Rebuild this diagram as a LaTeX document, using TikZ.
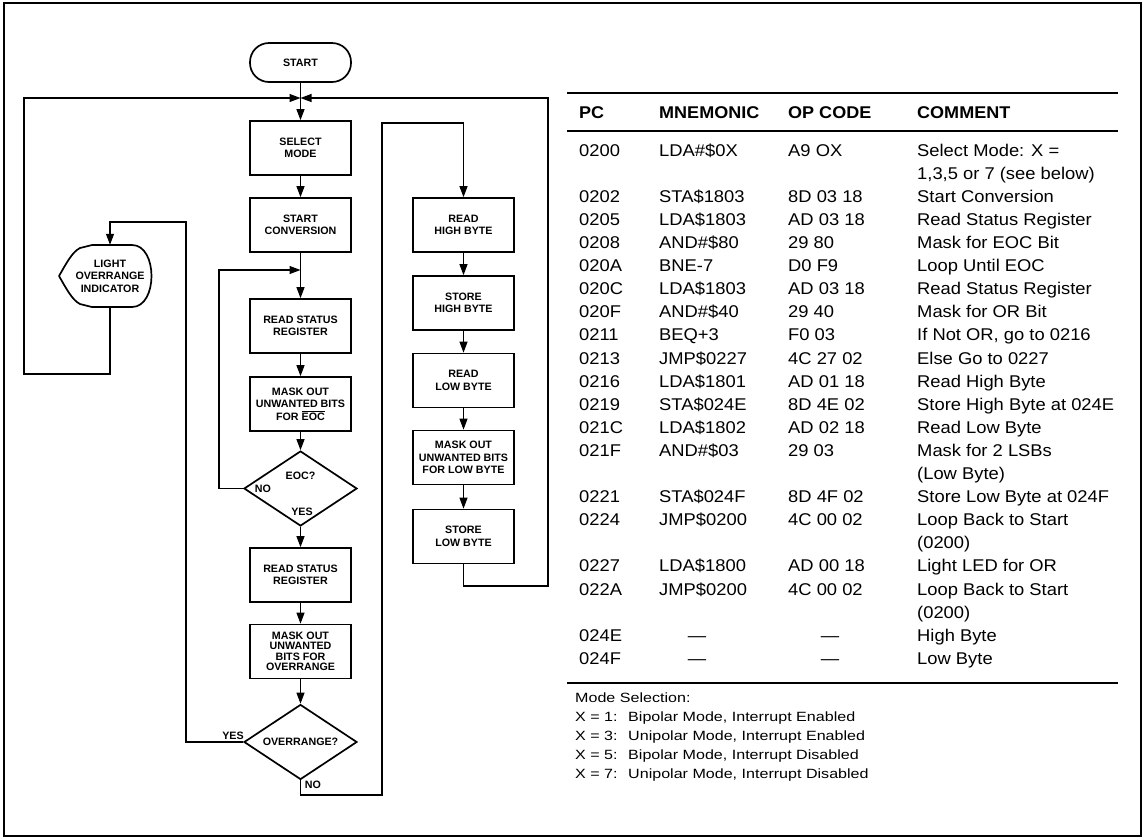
\documentclass[tikz,border=0pt]{standalone}
\usepackage{fontspec}
\setmainfont{Liberation Sans}
\newfontfamily\widefont[FakeStretch=1.08]{Liberation Sans}
\newfontfamily\headfont[FakeStretch=1.06]{Liberation Sans}
\newfontfamily\notefont[FakeStretch=1.2]{Liberation Sans}
\usetikzlibrary{arrows.meta,shapes.geometric}

\tikzset{
  wire/.style={line width=1.1pt},
  flow/.style={wire,-{Triangle[length=11pt,width=8pt]}},
  boxfont/.style={font=\fontsize{10.7}{12.5}\selectfont\bfseries},
  stepbox/.style={draw,line width=1.7pt,minimum width=101pt,minimum height=54pt,
    inner sep=0pt,align=center,boxfont},
  decision/.style={draw,line width=1.7pt,diamond,minimum width=113pt,
    minimum height=75pt,inner sep=0pt},
  terminal/.style={draw,line width=1.7pt,rounded corners=19pt,minimum width=101pt,
    minimum height=39pt,inner sep=0pt,boxfont},
  tag/.style={inner sep=0pt,boxfont,align=center},
  cell/.style={inner sep=0pt,anchor=west,text height=12.2pt,text depth=0pt,
    font={\widefont\fontsize{17}{20}\selectfont}},
  dashcell/.style={cell,anchor=center},
  headcell/.style={inner sep=0pt,anchor=west,text height=12.2pt,text depth=0pt,
    font={\headfont\fontsize{17}{20}\selectfont\bfseries}},
  note/.style={inner sep=0pt,anchor=west,text height=9.6pt,text depth=0pt,
    font={\notefont\fontsize{13.4}{16}\selectfont}},
  rule/.style={line width=1.3pt}
}

% one program line: index, PC, mnemonic, op code, comment
\newcommand\tabrow[5]{%
  \node[cell] (pc#1) at (579,{150+23.1*#1}) {#2};
  \node[cell] (mn#1) at (659,{150+23.1*#1}) {#3};
  \node[cell] (op#1) at (788,{150+23.1*#1}) {#4};
  \node[cell] (cm#1) at (917,{150+23.1*#1}) {#5};}
% continuation of a comment on the next line
\newcommand\tabmore[2]{%
  \node[cell] (cm#1) at (917,{150+23.1*#1}) {#2};}
% data words with no code
\newcommand\tabdata[3]{%
  \node[cell] (pc#1) at (579,{150+23.1*#1}) {#2};
  \node[dashcell] (mn#1) at (697,{150+23.1*#1}) {—};
  \node[dashcell] (op#1) at (830,{150+23.1*#1}) {—};
  \node[cell] (cm#1) at (917,{150+23.1*#1}) {#3};}

\begin{document}
\begin{tikzpicture}[x=1pt,y=-1pt]
\useasboundingbox (0,0) rectangle (1145,839);
\fill[white] (0,0) rectangle (1145,839);
\draw[line width=1.6pt] (4,3) rectangle (1141,836);

% ---------------- flowchart ----------------
\node[terminal] (start) at (300.5,62.5) {START};
\coordinate (join) at (300.5,98);

\node[stepbox] (sel)  at (300.5,148) {SELECT\\MODE};
\node[stepbox] (conv) at (300.5,225) {START\\CONVERSION};
\node[stepbox] (rs1)  at (300.5,326) {READ STATUS\\REGISTER};
\node[stepbox] (meoc) at (300.5,404) {MASK OUT\\UNWANTED BITS\\FOR $\overline{\mbox{EOC}}$};
\node[decision] (eoc) at (300.5,488.5) {};
\node[stepbox] (rs2)  at (300.5,575) {READ STATUS\\REGISTER};
\node[stepbox,font=\fontsize{10.7}{10.5}\selectfont\bfseries] (mor) at (300.5,651.5)
  {MASK OUT\\UNWANTED\\BITS FOR\\OVERRANGE};
\node[decision] (ovr) at (300.5,742) {};

\node[stepbox] (rhb) at (463.5,225) {READ\\HIGH BYTE};
\node[stepbox] (shb) at (463.5,303) {STORE\\HIGH BYTE};
\node[stepbox] (rlb) at (463.5,380.5) {READ\\LOW BYTE};
\node[stepbox] (mlb) at (463.5,457.5) {MASK OUT\\UNWANTED BITS\\FOR LOW BYTE};
\node[stepbox] (slb) at (463.5,536.5) {STORE\\LOW BYTE};

% display symbol for the overrange lamp
\draw[line width=1.7pt,line join=round]
  (59,276) .. controls (66,264) and (72,252) .. (80,248)
  -- (92,245) -- (132,245)
  .. controls (158,245) and (158,307) .. (132,307)
  -- (92,307) -- (80,304)
  .. controls (72,300) and (66,288) .. cycle;
\node[tag,minimum width=94pt,minimum height=62pt] (lor) at (110,276)
  {LIGHT\\OVERRANGE\\INDICATOR};

% decision labels
\node[tag] (eocq) at (300.5,476) {EOC?};
\node[tag] (eocno) at (263,489) {NO};
\node[tag] (eocyes) at (302,512) {YES};
\node[tag] (ovrq) at (300.5,742) {OVERRANGE?};
\node[tag] (ovryes) at (233,736) {YES};
\node[tag] (ovrno) at (313,785) {NO};

% main column
\draw[wire] (start.south) -- (join);
\draw[flow] (join) -- (sel.north);
\draw[flow] (sel) -- (conv);
\draw[flow] (conv) -- (rs1);
\draw[flow] (rs1) -- (meoc);
\draw[flow] (meoc) -- (eoc.north);
\draw[flow] (eoc.south) -- (rs2.north);
\draw[flow] (rs2) -- (mor);
\draw[flow] (mor) -- (ovr.north);

% wait for end of conversion
\coordinate (eocback) at (300.5,270);
\draw[flow] (eoc.west) -- (219,488.5) |- (eocback);

% overrange: light the lamp, then back to the top
\draw[flow] (ovr.west) -- (186,742) |- (110,222) -- (lor.north);
\draw[flow] (lor.south) |- (24,374) |- (join);

% no overrange: read the result
\draw[flow] (ovr.south) |- (382,795) |- (463.5,123) -- (rhb.north);
\draw[flow] (rhb) -- (shb);
\draw[flow] (shb) -- (rlb);
\draw[flow] (rlb) -- (mlb);
\draw[flow] (mlb) -- (slb);
\draw[flow] (slb.south) |- (548,586) |- (join);

% ---------------- program listing ----------------
\draw[rule] (567,93) -- (1118,93);
\draw[rule] (567,131) -- (1118,131);
\draw[rule] (567,683) -- (1118,683);

\node[headcell] (hpc) at (579,112) {PC};
\node[headcell] (hmn) at (659,112) {MNEMONIC};
\node[headcell] (hop) at (788,112) {OP CODE};
\node[headcell] (hcm) at (917,112) {COMMENT};

\tabrow{0}{0200}{LDA\#\$0X}{A9 OX}{Select Mode: X =}
\tabmore{1}{1,3,5 or 7 (see below)}
\tabrow{2}{0202}{STA\$1803}{8D 03 18}{Start Conversion}
\tabrow{3}{0205}{LDA\$1803}{AD 03 18}{Read Status Register}
\tabrow{4}{0208}{AND\#\$80}{29 80}{Mask for EOC Bit}
\tabrow{5}{020A}{BNE-7}{D0 F9}{Loop Until EOC}
\tabrow{6}{020C}{LDA\$1803}{AD 03 18}{Read Status Register}
\tabrow{7}{020F}{AND\#\$40}{29 40}{Mask for OR Bit}
\tabrow{8}{0211}{BEQ+3}{F0 03}{If Not OR, go to 0216}
\tabrow{9}{0213}{JMP\$0227}{4C 27 02}{Else Go to 0227}
\tabrow{10}{0216}{LDA\$1801}{AD 01 18}{Read High Byte}
\tabrow{11}{0219}{STA\$024E}{8D 4E 02}{Store High Byte at 024E}
\tabrow{12}{021C}{LDA\$1802}{AD 02 18}{Read Low Byte}
\tabrow{13}{021F}{AND\#\$03}{29 03}{Mask for 2 LSBs}
\tabmore{14}{(Low Byte)}
\tabrow{15}{0221}{STA\$024F}{8D 4F 02}{Store Low Byte at 024F}
\tabrow{16}{0224}{JMP\$0200}{4C 00 02}{Loop Back to Start}
\tabmore{17}{(0200)}
\tabrow{18}{0227}{LDA\$1800}{AD 00 18}{Light LED for OR}
\tabrow{19}{022A}{JMP\$0200}{4C 00 02}{Loop Back to Start}
\tabmore{20}{(0200)}
\tabdata{21}{024E}{High Byte}
\tabdata{22}{024F}{Low Byte}

% mode selection key
\node[note] (mhead) at (575,698) {Mode Selection:};
\node[note] (mx1) at (575,717) {X = 1:};
\node[note] (md1) at (628,717) {Bipolar Mode, Interrupt Enabled};
\node[note] (mx3) at (575,736) {X = 3:};
\node[note] (md3) at (628,736) {Unipolar Mode, Interrupt Enabled};
\node[note] (mx5) at (575,755) {X = 5:};
\node[note] (md5) at (628,755) {Bipolar Mode, Interrupt Disabled};
\node[note] (mx7) at (575,774) {X = 7:};
\node[note] (md7) at (628,774) {Unipolar Mode, Interrupt Disabled};
\end{tikzpicture}
\end{document}
